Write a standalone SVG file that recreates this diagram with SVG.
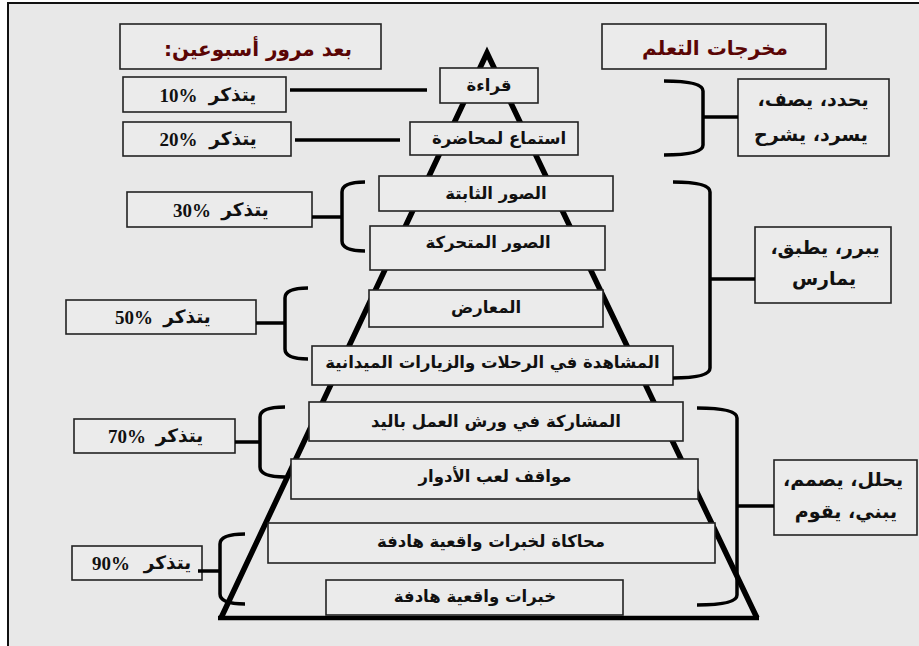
<svg xmlns="http://www.w3.org/2000/svg" width="919" height="646" viewBox="0 0 919 646">
<style>
.bg{fill:#e8e8e8}
.box{fill:#ebebeb;stroke:#222;stroke-width:1.6}
.ar{font-family:"DejaVu Sans",sans-serif;font-weight:bold;font-size:16.5px;fill:#111;text-anchor:middle;direction:rtl}
.arw{font-family:"DejaVu Sans",sans-serif;font-weight:bold;font-size:18.5px;fill:#111;text-anchor:middle;direction:rtl}
.arb{font-family:"DejaVu Sans",sans-serif;font-weight:bold;font-size:19px;fill:#111;text-anchor:middle;direction:rtl}
.hd{font-family:"DejaVu Sans",sans-serif;font-weight:bold;font-size:20px;fill:#5a0505;text-anchor:middle;direction:rtl}
.num{font-family:"Liberation Serif",serif;font-weight:bold;font-size:19px;fill:#111;text-anchor:middle}
.br{fill:none;stroke:#000;stroke-width:3.5;stroke-linecap:butt}
.ln{fill:none;stroke:#000;stroke-width:3.5}
</style>
<rect x="0" y="0" width="919" height="646" fill="#ffffff"/>
<rect class="bg" x="8" y="3" width="911" height="643"/>
<path d="M8,646 L8,3 L919,3" fill="none" stroke="#111" stroke-width="2"/>

<g id="pyramid">
<path d="M221,618 L487,53 L757,618" fill="none" stroke="#000" stroke-width="5.5" stroke-linejoin="miter"/>
<line x1="218" y1="618" x2="759" y2="618" stroke="#000" stroke-width="4.5"/>
</g>

<g id="header-left"><rect class="box" x="120" y="24" width="261" height="45"/><text class="hd" x="258" y="56">بعد مرور أسبوعين:</text></g>
<g id="header-right"><rect class="box" x="602" y="24" width="224" height="45"/><text class="hd" x="715" y="55">مخرجات التعلم</text></g>

<g id="p10"><rect class="box" x="123" y="77" width="163" height="35"/><text class="num" x="178.5" y="102">10%</text><text class="arw" x="232.5" y="101">يتذكر</text></g>
<g id="p20"><rect class="box" x="123" y="122" width="168" height="34"/><text class="num" x="178.5" y="146">20%</text><text class="arw" x="233" y="145">يتذكر</text></g>
<g id="p30"><rect class="box" x="127" y="192" width="185" height="35"/><text class="num" x="192" y="217">30%</text><text class="arw" x="245" y="216">يتذكر</text></g>
<g id="p50"><rect class="box" x="66" y="300" width="190" height="34"/><text class="num" x="134" y="324">50%</text><text class="arw" x="187" y="323">يتذكر</text></g>
<g id="p70"><rect class="box" x="74" y="419" width="161" height="34"/><text class="num" x="127" y="443">70%</text><text class="arw" x="179.5" y="442">يتذكر</text></g>
<g id="p90"><rect class="box" x="72" y="546" width="130" height="34"/><text class="num" x="111" y="570">90%</text><text class="arw" x="167.5" y="569">يتذكر</text></g>

<g id="s1"><rect class="box" x="440" y="68" width="98" height="35"/><text class="ar" x="489" y="91">قراءة</text></g>
<g id="s2"><rect class="box" x="410" y="122" width="168" height="33"/><text class="ar" x="499" y="144">استماع لمحاضرة</text></g>
<g id="s3"><rect class="box" x="379" y="176" width="234" height="35"/><text class="ar" x="496" y="199">الصور الثابتة</text></g>
<g id="s4"><rect class="box" x="370" y="226" width="235" height="44"/><text class="ar" x="488" y="248">الصور المتحركة</text></g>
<g id="s5"><rect class="box" x="369" y="290" width="234" height="37"/><text class="ar" x="486" y="313">المعارض</text></g>
<g id="s6"><rect class="box" x="312" y="346" width="361" height="39"/><text class="ar" x="492.5" y="368">المشاهدة في الرحلات والزيارات الميدانية</text></g>
<g id="s7"><rect class="box" x="309" y="402" width="374" height="39"/><text class="ar" x="496" y="427">المشاركة في ورش العمل باليد</text></g>
<g id="s8"><rect class="box" x="291" y="459" width="407" height="40"/><text class="ar" x="495" y="482">مواقف لعب الأدوار</text></g>
<g id="s9"><rect class="box" x="268" y="523" width="447" height="40"/><text class="ar" x="491" y="547">محاكاة لخبرات واقعية هادفة</text></g>
<g id="s10"><rect class="box" x="326" y="580" width="297" height="35"/><text class="ar" x="475" y="602">خبرات واقعية هادفة</text></g>

<g id="o1"><rect class="box" x="738" y="79" width="151" height="77"/><text class="arb" x="813" y="106">يحدد، يصف،</text><text class="arb" x="811" y="141">يسرد، يشرح</text></g>
<g id="o2"><rect class="box" x="755" y="227" width="136" height="76"/><text class="arb" x="825" y="254">يبرر، يطبق،</text><text class="arb" x="824" y="285">يمارس</text></g>
<g id="o3"><rect class="box" x="774" y="460" width="143" height="75"/><text class="arb" x="843" y="486">يحلل، يصمم،</text><text class="arb" x="846" y="518">يبني، يقوم</text></g>

<g id="connectors">
<line class="ln" x1="290" y1="90" x2="427" y2="90"/>
<line class="ln" x1="295" y1="140" x2="400" y2="140"/>
<path class="br" d="M365,182 Q342,182 342,192 L342,241 Q342,251 365,251 M312,217 L342,217"/>
<path class="br" d="M308,288 Q285,288 285,298 L285,349 Q285,359 308,359 M256,323 L285,323"/>
<path class="br" d="M285,407 Q260,407 260,417 L260,467 Q260,477 285,477 M235,442 L260,442"/>
<path class="br" d="M245,534 Q220,534 220,544 L220,594 Q220,604 245,604 M198,571 L220,571"/>
<path class="br" d="M664,81 Q703,81 703,91 L703,145 Q703,155 664,155 M703,117 L738,117"/>
<path class="br" d="M673,182 Q710,182 710,192 L710,368 Q710,378 673,378 M710,279 L755,279"/>
<path class="br" d="M697,408 Q737,408 737,418 L737,595 Q737,605 697,605 M737,506 L774,506"/>
</g>
</svg>
